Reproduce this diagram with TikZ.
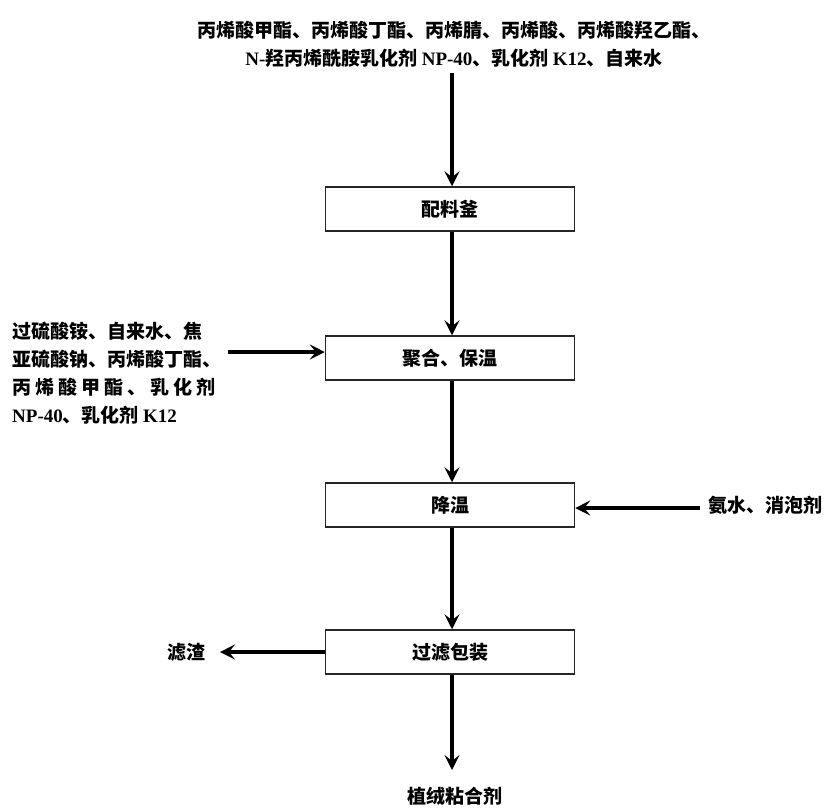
\documentclass[tikz,border=0pt]{standalone}
\usepackage{fontspec}
\setmainfont{Noto Sans CJK SC}
\newfontfamily\latfont{Liberation Serif}
\newcommand{\lat}[1]{{\latfont\bfseries #1}}
\usetikzlibrary{arrows.meta}
\tikzset{
  procbox/.style={draw=black!85, line width=1.5pt, minimum width=249pt, minimum height=44pt, inner sep=0pt, font=\fontsize{19}{22}\selectfont\bfseries},
  lbl/.style={inner sep=0pt, font=\fontsize{19}{22}\selectfont\bfseries},
  flowarr/.style={draw=black, line width=3.4pt, -{Stealth[length=15pt,width=15pt,inset=6pt]}},
}
\begin{document}
\begin{tikzpicture}[x=1pt,y=-1pt]
\useasboundingbox[fill=white] (0,0) rectangle (827,807);
\node[lbl, align=center] (src) at (454,44) {丙烯酸甲酯、丙烯酸丁酯、丙烯腈、丙烯酸、丙烯酸羟乙酯、\\[6pt]\lat{N-}羟丙烯酰胺乳化剂 \lat{NP-40}、乳化剂 \lat{K12}、自来水};
\node[procbox] (b1) at (450,209) {配料釜};
\node[procbox] (b2) at (450,358) {聚合、保温};
\node[procbox] (b3) at (450,505) {降温};
\node[procbox] (b4) at (450,652) {过滤包装};
\node[lbl, align=left, anchor=north west] (lt) at (12,322) {过硫酸铵、自来水、焦\\[6pt]亚硫酸钠、丙烯酸丁酯、\\[6pt]\makebox[203pt][s]{丙\hfil 烯\hfil 酸\hfil 甲\hfil 酯\hfil 、\hfil 乳\hfil 化\hfil 剂}\\[6pt]\lat{NP-40}、乳化剂 \lat{K12}};
\node[lbl, anchor=west] (rt) at (708,505) {氨水、消泡剂};
\node[lbl, anchor=east] (zz) at (206,652) {滤渣};
\node[lbl] (prod) at (455,797) {植绒粘合剂};
\coordinate (s1) at ([xshift=2pt,yshift=-6pt]src.south -| b1.north);
\draw[flowarr] (s1) -- (s1 |- b1.north);
\draw[flowarr] ([xshift=2pt]b1.south) -- ([xshift=2pt]b2.north);
\draw[flowarr] ([xshift=2pt]b2.south) -- ([xshift=2pt]b3.north);
\draw[flowarr] ([xshift=2pt]b3.south) -- ([xshift=2pt]b4.north);
\coordinate (p1) at ([xshift=2pt]b4.south);
\draw[flowarr] (p1) -- (p1 |- 0,770);
\coordinate (la) at (228,352);
\draw[flowarr] (la) -- (la -| b2.west);
\coordinate (ra) at ([xshift=-8pt,yshift=-3pt]rt.west);
\draw[flowarr] (ra) -- (ra -| b3.east);
\draw[flowarr] (b4.west) -- ([xshift=14pt]zz.east);
\end{tikzpicture}
\end{document}
